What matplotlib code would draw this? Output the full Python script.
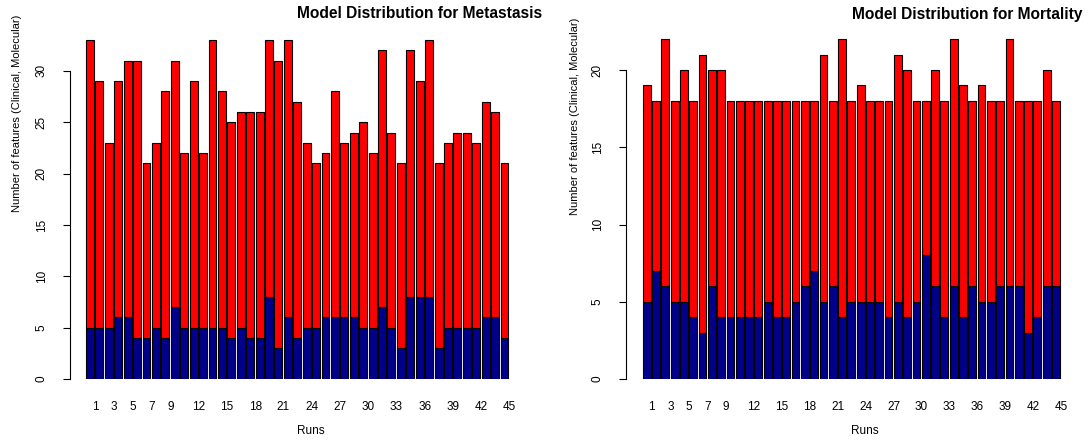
import matplotlib
matplotlib.use("Agg")
import matplotlib.pyplot as plt
from matplotlib.transforms import ScaledTranslation

plt.rcParams['font.family'] = ['Liberation Sans', 'DejaVu Sans']

runs = list(range(1, 46))
shown_runs = [1, 3, 5, 7, 9, 12, 15, 18, 21, 24, 27, 30, 33, 36, 39, 42, 45]

# metastasis: total features per run and the lower (blue) part
meta_total = [33, 29, 23, 29, 31, 31, 21, 23, 28, 31, 22, 29, 22, 33, 28,
              25, 26, 26, 26, 33, 31, 33, 27, 23, 21, 22, 28, 23, 24, 25,
              22, 32, 24, 21, 32, 29, 33, 21, 23, 24, 24, 23, 27, 26, 21]
meta_blue = [5, 5, 5, 6, 6, 4, 4, 5, 4, 7, 5, 5, 5, 5, 5,
             4, 5, 4, 4, 8, 3, 6, 4, 5, 5, 6, 6, 6, 6, 5,
             5, 7, 5, 3, 8, 8, 8, 3, 5, 5, 5, 5, 6, 6, 4]

# mortality
mort_total = [19, 18, 22, 18, 20, 18, 21, 20, 20, 18, 18, 18, 18, 18, 18,
              18, 18, 18, 18, 21, 18, 22, 18, 19, 18, 18, 18, 21, 20, 18,
              18, 20, 18, 22, 19, 18, 19, 18, 18, 22, 18, 18, 18, 20, 18]
mort_blue = [5, 7, 6, 5, 5, 4, 3, 6, 4, 4, 4, 4, 4, 5, 4,
             4, 5, 6, 7, 5, 6, 4, 5, 5, 5, 5, 4, 5, 4, 5,
             8, 6, 4, 6, 4, 6, 5, 5, 6, 6, 6, 3, 4, 6, 6]

W, H = 1089, 441
fig = plt.figure(figsize=(W / 100, H / 100), dpi=100)


def px_axes(left, right, top, bottom):
    # axes rectangle given in pixel coords (from top-left)
    return fig.add_axes([left / W, (H - bottom) / H, (right - left) / W, (bottom - top) / H])


def draw(ax, total, blue, xlim, ylim, yticks, title, title_x, ylab_xy, runs_x):
    red = [t - b for t, b in zip(total, blue)]
    ax.bar(runs, blue, width=0.84, color='#00008B', edgecolor='black', linewidth=0.8)
    ax.bar(runs, red, bottom=blue, width=0.84, color='#FF0000', edgecolor='black', linewidth=0.8)
    ax.set_xlim(*xlim)
    ax.set_ylim(*ylim)
    for s in ['top', 'right', 'bottom']:
        ax.spines[s].set_visible(False)
    ax.spines['left'].set_bounds(yticks[0], yticks[-1])
    ax.spines['left'].set_linewidth(0.8)
    ax.set_yticks(yticks)
    ax.set_yticklabels([str(v) for v in yticks], rotation=90, va='center', fontsize=8.5)
    ax.tick_params(axis='y', length=5, width=0.8, pad=11)
    ax.set_xticks(shown_runs)
    ax.set_xticklabels([str(v) for v in shown_runs], fontsize=8.5)
    ax.tick_params(axis='x', length=0, pad=16)
    for lab in ax.get_xticklabels():
        lab.set_transform(lab.get_transform() + ScaledTranslation(5 / 100, 0, fig.dpi_scale_trans))
    fig.text(title_x / W, 1 - 14 / H, title, fontsize=11.2, fontweight='bold', ha='left', va='center')
    fig.text(ylab_xy[0] / W, 1 - ylab_xy[1] / H, "Number of features (Clinical, Molecular)",
             rotation=90, fontsize=8, ha='center', va='center')
    fig.text(runs_x / W, 1 - 431 / H, "Runs", fontsize=8.5, ha='center', va='center')


# left chart: bar 1 centre at px 90, spacing 9.42 px; 0 at y=379, 10.27 px per unit
ax1 = px_axes(70, 520, 30, 379)
draw(ax1, meta_total, meta_blue,
     (1 - 20 / 9.42, 45 + 15.5 / 9.42), (0, 349 / 10.27),
     [0, 5, 10, 15, 20, 25, 30],
     "Model Distribution for Metastasis", 297, (17, 113), 311)

# right chart: bar 1 centre at px 646.7, spacing 9.30 px; 15.45 px per unit
ax2 = px_axes(626, 1080, 30, 379)
draw(ax2, mort_total, mort_blue,
     (1 - 20.7 / 9.30, 45 + 24 / 9.30), (0, 349 / 15.45),
     [0, 5, 10, 15, 20],
     "Model Distribution for Mortality", 852, (575, 116), 865)

fig.savefig("out.png", dpi=100)
